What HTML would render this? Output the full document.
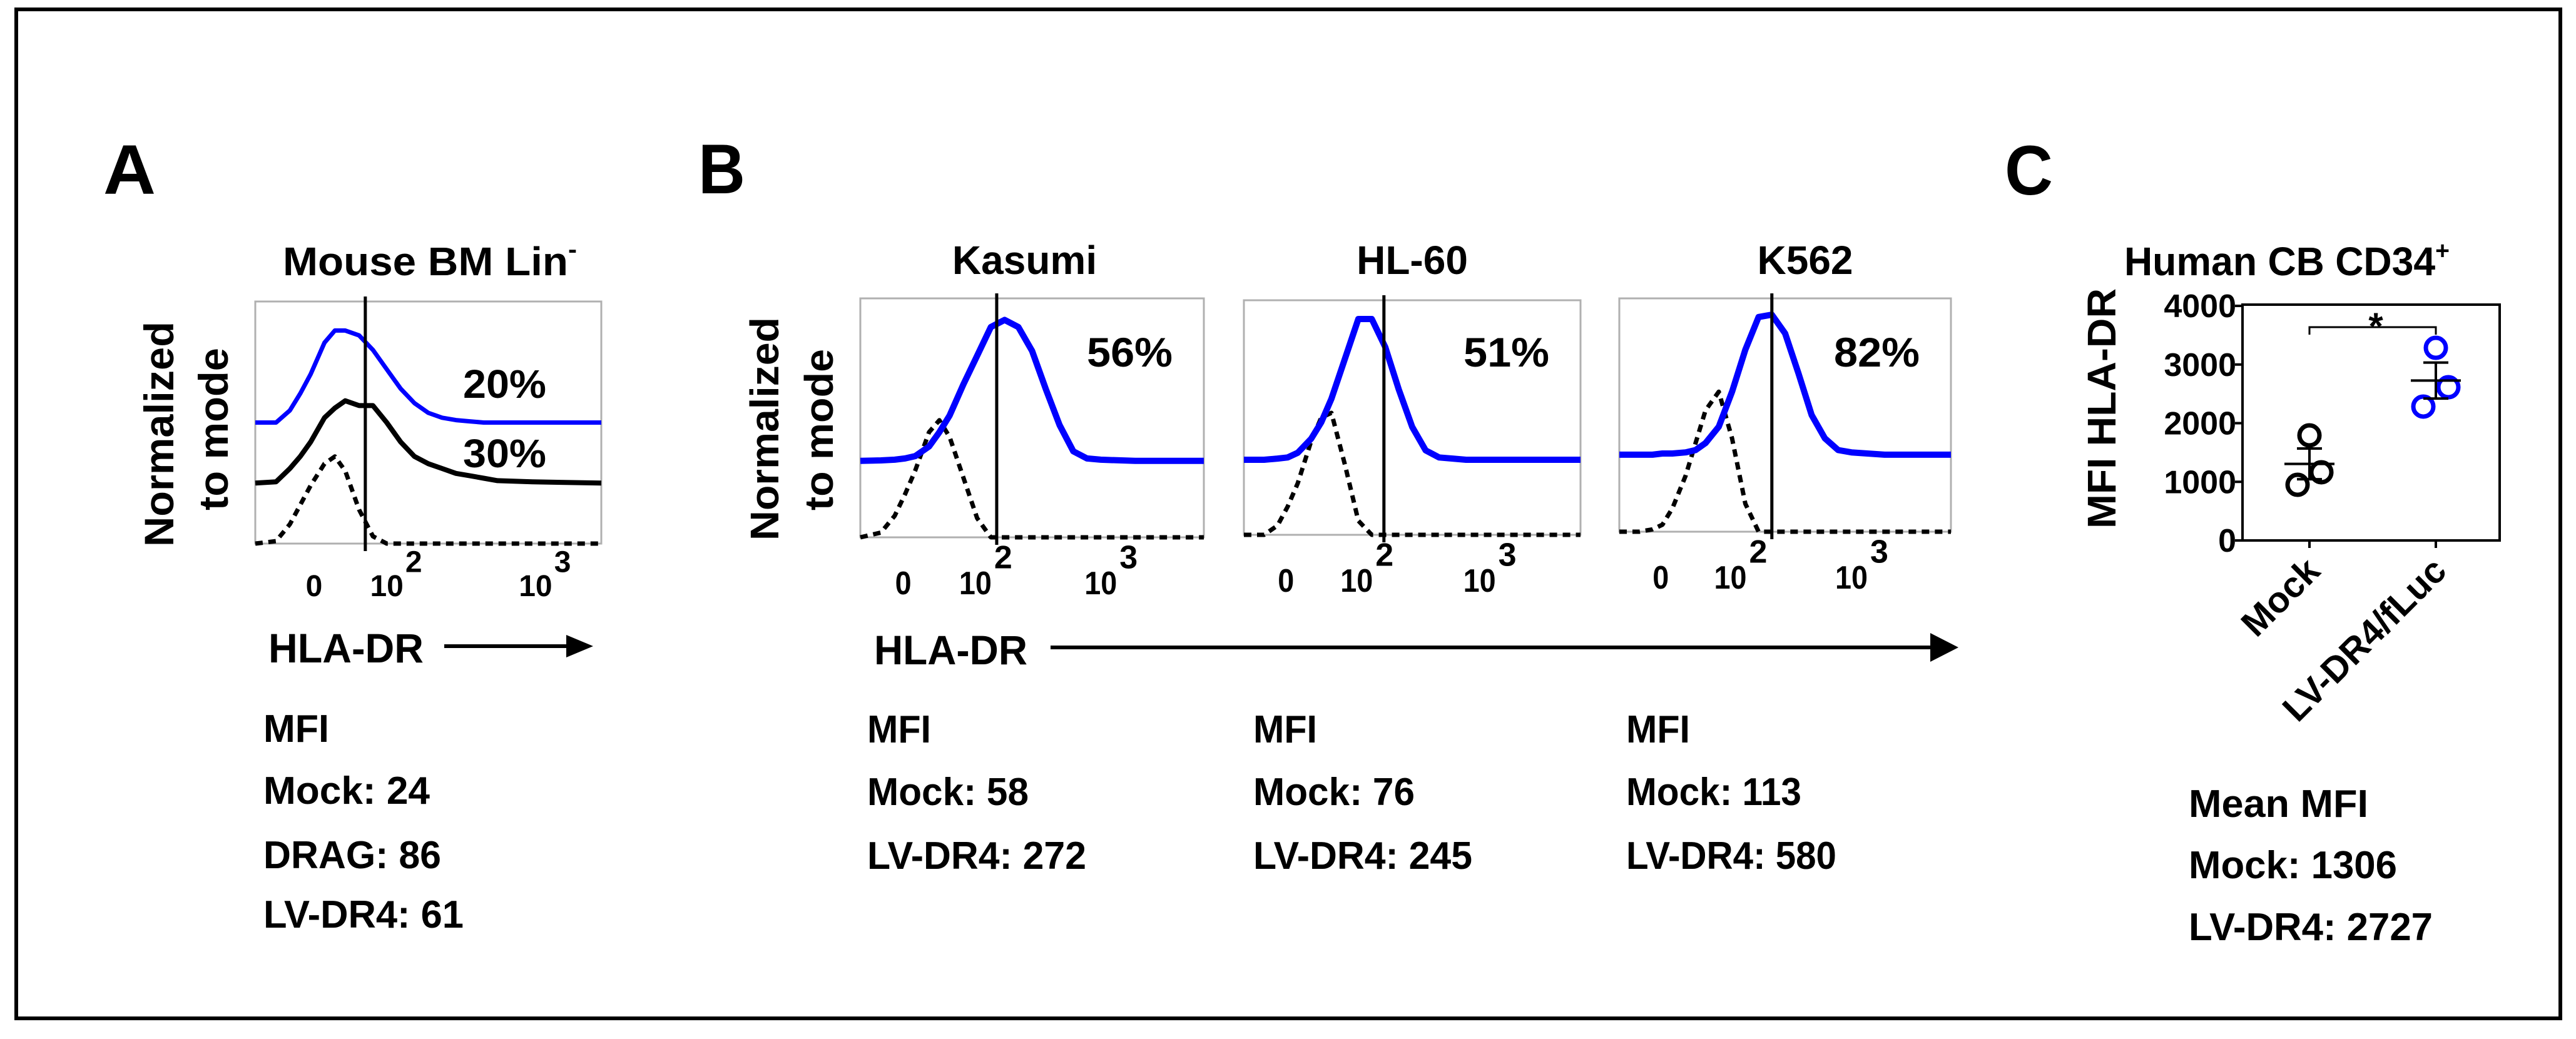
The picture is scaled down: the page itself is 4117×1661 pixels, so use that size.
<!DOCTYPE html>
<html><head><meta charset="utf-8"><style>
html,body{margin:0;padding:0;background:#fff;}
svg{display:block;}
text{font-family:"Liberation Sans",Arial,sans-serif;font-weight:bold;fill:#000;}
</style></head><body>
<svg id="fig" width="4117" height="1661" viewBox="0 0 4117 1661" xmlns="http://www.w3.org/2000/svg">
<rect x="26" y="15" width="4066" height="1613" fill="none" stroke="#000" stroke-width="6"/>
<!-- Panel A -->
<text x="165" y="310" font-size="112" textLength="84" lengthAdjust="spacingAndGlyphs">A</text>
<text x="452" y="440" font-size="64" textLength="470" lengthAdjust="spacingAndGlyphs">Mouse BM Lin<tspan font-size="40" dy="-28">-</tspan></text>
<text transform="translate(277,874) rotate(-90)" font-size="66" textLength="360" lengthAdjust="spacingAndGlyphs">Normalized</text>
<text transform="translate(364,816) rotate(-90)" font-size="66" textLength="260" lengthAdjust="spacingAndGlyphs">to mode</text>
<text x="429" y="1059" font-size="66" textLength="248" lengthAdjust="spacingAndGlyphs">HLA-DR</text>
<g><line x1="710" y1="1033" x2="915" y2="1033" stroke="#000" stroke-width="6"/><polygon points="905,1015 948,1033 905,1051" fill="#000"/></g>
<g>
<text x="421" y="1186" font-size="62" textLength="105" lengthAdjust="spacingAndGlyphs">MFI</text>
<text x="421" y="1285" font-size="62" textLength="266" lengthAdjust="spacingAndGlyphs">Mock: 24</text>
<text x="421" y="1388" font-size="62" textLength="284" lengthAdjust="spacingAndGlyphs">DRAG:  86</text>
<text x="421" y="1483" font-size="62" textLength="320" lengthAdjust="spacingAndGlyphs">LV-DR4: 61</text>
</g>
<!-- Panel B -->
<text x="1116" y="309" font-size="112" textLength="75" lengthAdjust="spacingAndGlyphs">B</text>
<text transform="translate(1244,864) rotate(-90)" font-size="64" textLength="357" lengthAdjust="spacingAndGlyphs">Normalized</text>
<text transform="translate(1331,816) rotate(-90)" font-size="64" textLength="258" lengthAdjust="spacingAndGlyphs">to mode</text>
<text x="1397" y="1062" font-size="66" textLength="245" lengthAdjust="spacingAndGlyphs">HLA-DR</text>
<g><line x1="1679" y1="1035" x2="3095" y2="1035" stroke="#000" stroke-width="6"/><polygon points="3085,1012 3130,1035 3085,1058" fill="#000"/></g>
<g>
<text x="1386" y="1187" font-size="62" textLength="102" lengthAdjust="spacingAndGlyphs">MFI</text>
<text x="1386" y="1287" font-size="62" textLength="258" lengthAdjust="spacingAndGlyphs">Mock: 58</text>
<text x="1386" y="1389" font-size="62" textLength="350" lengthAdjust="spacingAndGlyphs">LV-DR4: 272</text>
<text x="2003" y="1187" font-size="62" textLength="102" lengthAdjust="spacingAndGlyphs">MFI</text>
<text x="2003" y="1287" font-size="62" textLength="258" lengthAdjust="spacingAndGlyphs">Mock: 76</text>
<text x="2003" y="1389" font-size="62" textLength="350" lengthAdjust="spacingAndGlyphs">LV-DR4: 245</text>
<text x="2599" y="1187" font-size="62" textLength="102" lengthAdjust="spacingAndGlyphs">MFI</text>
<text x="2599" y="1287" font-size="62" textLength="280" lengthAdjust="spacingAndGlyphs">Mock: 113</text>
<text x="2599" y="1389" font-size="62" textLength="336" lengthAdjust="spacingAndGlyphs">LV-DR4: 580</text>
</g>
<!-- Panel C -->
<text x="3204" y="311" font-size="112" textLength="77" lengthAdjust="spacingAndGlyphs">C</text>
<text x="3395" y="440" font-size="64" textLength="520" lengthAdjust="spacingAndGlyphs">Human CB CD34<tspan font-size="40" dy="-26">+</tspan></text>
<text transform="translate(3381,845) rotate(-90)" font-size="64" textLength="384" lengthAdjust="spacingAndGlyphs">MFI HLA-DR</text>
<g>
<text x="3498" y="1306" font-size="62" textLength="287" lengthAdjust="spacingAndGlyphs">Mean MFI</text>
<text x="3498" y="1404" font-size="62" textLength="333" lengthAdjust="spacingAndGlyphs">Mock: 1306</text>
<text x="3498" y="1503" font-size="62" textLength="390" lengthAdjust="spacingAndGlyphs">LV-DR4: 2727</text>
</g>
<g id="plots"></g>
</svg>
<script>
// ---------- Histogram data (channel 0-1000, height % of mode-normalized box) ----------
const histChannels = [0,60,100,130,160,200,230,260,300,340,380,420,460,500,540,580,620,660,700,800,1000];
const aBlue   = [50,50,55,62,70,83,88,88,86,80,72,64,58,54,52,51,50.5,50,50,50,50];
const aBlack  = [25,25.5,31,36,42,52,56,59,57,57,50,42,36,33,31,29,28,27,26,25.5,25];
const aDotted = [0,1,8,16,24,33,36,30,14,3,0,0,0,0,0,0,0,0,0,0,0];
const kBlue   = [32,32.2,32.5,33,34,38,44,51,64,76,88,91,88,78,62,47,36,33,32.5,32,32];
const kDotted = [0,2,9,18,28,44,49,42,25,8,0,0,0,0,0,0,0,0,0,0,0];
const hBlue   = [32,32,32.5,33,35,41,48,58,75,92,92,80,62,46,36,33,32.5,32,32,32,32];
const hDotted = [0,0,4,12,22,40,50,52,30,6,0,0,0,0,0,0,0,0,0,0,0];
const cBlue   = [33,33,33,33.5,33.5,34,35,38,45,60,78,92,93,85,68,50,40,35,34,33,33];
const cDotted = [0,0,1,3,10,24,38,52,60,40,12,0,0,0,0,0,0,0,0,0,0];
const aGate = 318, kGate = 397, hGate = 416, cGate = 460;
const aTickLabels = ["0","10","10"], aTickExp = ["","2","3"], aTickPos = [170,380,810];
const bTickLabels = ["0","10","10"], bTickExp = ["","2","3"], bTickPos = [125,335,700];
const bTitles = ["Kasumi","HL-60","K562"];
const bPercents = ["56%","51%","82%"];
const aPercents = ["20%","30%"];
// ---------- Scatter data ----------
const cCategories = ["Mock","LV-DR4/fLuc"];
const mockValues = [1792,949,1163];
const lvValues = [3285,2613,2283];
const groupMeans = [1306,2727];
const groupSems = [262,307];
const yTicks = [0,1000,2000,3000,4000];

const NS = "http://www.w3.org/2000/svg";
const root = document.getElementById("plots");
function mk(tag, attrs, parent){const e=document.createElementNS(NS,tag);for(const k in attrs)e.setAttribute(k,attrs[k]);(parent||root).appendChild(e);return e;}

function histPanel(box, name, series, gate, tickPos, tickLab, tickExp, tickFs, narrow){
  const g = mk("g",{});
  
  
  const X = c => box.x + c/1000*box.w;
  const Y = h => box.y + box.h - h/100*box.h;
  const r = mk("rect",{x:box.x,y:box.y,width:box.w,height:box.h,fill:"none",stroke:"#b0b0b0","stroke-width":3},g);
  
  
  series.forEach(s=>{
    const pts = histChannels.map((c,i)=>X(c).toFixed(1)+","+Y(s.vals[i]).toFixed(1)).join(" ");
    const p = mk("polyline",{points:pts,fill:"none",stroke:s.color,"stroke-width":s.w,"stroke-linejoin":"round","stroke-dasharray":s.dash||"none"},g);
    
    
  });
  const gl = mk("line",{x1:X(gate),x2:X(gate),y1:box.y-8,y2:box.y+box.h+12,stroke:"#000","stroke-width":5},g);
  
  
  tickPos.forEach((c,i)=>{
    const attrs = {x:X(c),y:box.y+box.h+tickFs*1.75,"font-size":tickFs,"text-anchor":"middle"};
    if(narrow){attrs.textLength = tickLab[i].length*26; attrs.lengthAdjust="spacingAndGlyphs";}
    const t = mk("text",attrs,g);
    t.textContent = tickLab[i];
    
    
    if(tickExp[i]){
      const e = mk("text",{x:X(c)+(narrow?30:tickFs*0.62),y:box.y+box.h+tickFs*0.95,"font-size":tickFs},g);
      e.textContent = tickExp[i];
      
      
    }
  });
  return {g,X,Y};
}

// Panel A
const A = histPanel({x:408,y:482,w:553,h:387},"histogram-a",[
  {vals:aDotted,color:"#000",w:7,dash:"12,9",name:"mock-histogram-a"},
  {vals:aBlack,color:"#000",w:8,name:"drag-histogram-a"},
  {vals:aBlue,color:"#0000ff",w:7,name:"lvdr4-histogram-a"}
],aGate,aTickPos,aTickLabels,aTickExp,48,false);
[[aPercents[0],636],[aPercents[1],747]].forEach(([t,y],i)=>{
  const e = mk("text",{x:740,y:y,"font-size":64,textLength:133,lengthAdjust:"spacingAndGlyphs"},A.g);
  e.textContent=t;
  
  
});

// Panel B
const bBoxes = [{x:1375,y:477,w:549,h:382},{x:1988,y:480,w:538,h:375},{x:2588,y:477,w:530,h:373}];
const bSeries = [[kDotted,kBlue],[hDotted,hBlue],[cDotted,cBlue]];
const bGates = [kGate,hGate,cGate];
const bNames = ["kasumi","hl60","k562"];
bBoxes.forEach((box,i)=>{
  const P = histPanel(box,"histogram-"+bNames[i],[
    {vals:bSeries[i][0],color:"#000",w:7,dash:"12,9",name:"mock-histogram-"+bNames[i]},
    {vals:bSeries[i][1],color:"#0000ff",w:10,name:"lvdr4-histogram-"+bNames[i]}
  ],bGates[i],bTickPos,bTickLabels,bTickExp,52,true);
  const t = mk("text",{x:box.x+box.w/2+(i==2?32:(i==0?-12:0)),y:438,"font-size":64,"text-anchor":"middle"},P.g);
  t.textContent=bTitles[i];
  
  
  const pc = mk("text",{x:box.x+box.w-50,y:586,"font-size":66,"text-anchor":"end",textLength:137,lengthAdjust:"spacingAndGlyphs"},P.g);
  pc.textContent=bPercents[i];
  
  
});

// Panel C scatter
const cBox = {x:3584,y:487,w:411,h:377};
const cx = i => [3691,3893][i];
const cy = v => cBox.y + cBox.h - v/4000*(cBox.h-2);
const gc = mk("g",{});


const fr = mk("rect",{x:cBox.x,y:cBox.y,width:cBox.w,height:cBox.h,fill:"none",stroke:"#000","stroke-width":4},gc);


yTicks.forEach(v=>{
  const l = mk("line",{x1:cBox.x-12,x2:cBox.x,y1:cy(v),y2:cy(v),stroke:"#000","stroke-width":4},gc);
  
  
  const t = mk("text",{x:3574,y:cy(v)+18,"font-size":52,"text-anchor":"end"},gc);
  t.textContent=String(v);
  
  
});
cCategories.forEach((c,i)=>{
  const l = mk("line",{x1:cx(i),x2:cx(i),y1:cBox.y+cBox.h,y2:cBox.y+cBox.h+12,stroke:"#000","stroke-width":4},gc);
  
  
  const t = mk("text",{transform:`translate(${cx(i)+20},${cBox.y+cBox.h+52}) rotate(-45)`,"font-size":58,"text-anchor":"end"},gc);
  t.textContent=c;
  
  
});
// significance bracket
const br = mk("polyline",{points:`${cx(0)},${cBox.y+48} ${cx(0)},${cBox.y+36} ${cx(1)},${cBox.y+36} ${cx(1)},${cBox.y+48}`,fill:"none",stroke:"#000","stroke-width":3},gc);


const st = mk("text",{x:(cx(0)+cx(1))/2+5,y:cBox.y+55,"font-size":60,"text-anchor":"middle"},gc);
st.textContent="*";


const ptOffsets = [[0,-19,19],[0,20,-20]];
[mockValues,lvValues].forEach((vals,gi)=>{
  const col = gi==0?"#000":"#0000ff";
  vals.forEach((v,j)=>{
    const c = mk("circle",{cx:cx(gi)+ptOffsets[gi][j],cy:cy(v),r:16,fill:"none",stroke:col,"stroke-width":7},gc);
    
    
  });
  const m = groupMeans[gi], s = groupSems[gi];
  const ml = mk("line",{x1:cx(gi)-40,x2:cx(gi)+40,y1:cy(m),y2:cy(m),stroke:"#000","stroke-width":4},gc);
  
  
  const eb = mk("path",{d:`M${cx(gi)},${cy(m-s)}V${cy(m+s)}M${cx(gi)-20},${cy(m+s)}H${cx(gi)+20}M${cx(gi)-20},${cy(m-s)}H${cx(gi)+20}`,fill:"none",stroke:"#000","stroke-width":4},gc);
  
  
});
</script>
</body></html>
